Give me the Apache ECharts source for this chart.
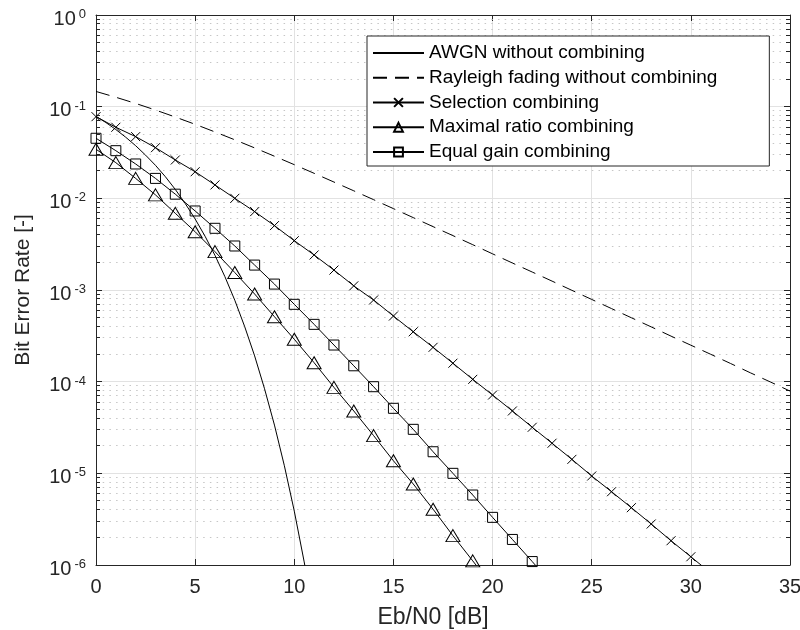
<!DOCTYPE html>
<html>
<head>
<meta charset="utf-8">
<script src="https://cdn.jsdelivr.net/npm/echarts/dist/echarts.min.js"></script>
<style>
  html, body { margin: 0; padding: 0; background: #ffffff; }
  #chart { width: 800px; height: 630px; }
</style>
</head>
<body>
<div id="chart"></div>
<script>
// BER curves for BPSK with two-branch diversity combining

// AWGN reference curve (no fading, no combining)
const awgnEbN0 = [0, 0.5, 1, 1.5, 2, 2.5, 3, 3.5, 4, 4.5, 5, 5.5, 6, 6.5, 7, 7.5, 8, 8.5, 9, 9.5, 10, 10.5, 11];
const awgnBer = [0.0786, 0.0671, 0.0563, 0.0464, 0.0375, 0.0296, 0.0229, 0.0172, 0.0125, 0.00878,
  0.00595, 0.00386, 0.00239, 0.00140, 7.73e-4, 3.98e-4, 1.91e-4, 8.37e-5, 3.36e-5, 1.21e-5,
  3.87e-6, 1.08e-6, 2.6e-7];

// Rayleigh fading, single branch
const rayEbN0 = [0, 1, 2, 3, 4, 5, 6, 7, 8, 9, 10, 11, 12, 13, 14, 15, 16, 17, 18, 19, 20,
  21, 22, 23, 24, 25, 26, 27, 28, 29, 30, 31, 32, 33, 34, 35];
const rayBer = [0.1465, 0.1267, 0.1085, 0.0919, 0.0771, 0.0642, 0.0530, 0.0435, 0.0355, 0.0288,
  0.0233, 0.01875, 0.01506, 0.01208, 0.00967, 0.00772, 0.00616, 0.00491, 0.00392, 0.00312,
  0.00248, 0.00197, 0.00157, 0.00125, 9.92e-4, 7.89e-4, 6.27e-4, 4.98e-4, 3.96e-4, 3.14e-4,
  2.50e-4, 1.99e-4, 1.58e-4, 1.25e-4, 9.95e-5, 7.9e-5];

// Selection combining
const selEbN0 = [0, 1, 2, 3, 4, 5, 6, 7, 8, 9, 10, 11, 12, 13, 14, 15, 16, 17, 18, 19, 20,
  21, 22, 23, 24, 25, 26, 27, 28, 29, 30, 31];
const selBer = [0.0778, 0.0596, 0.0471, 0.0357, 0.0262, 0.0195, 0.0140, 0.0100, 0.00716, 0.00504,
  0.00345, 0.00241, 0.00165, 0.00111, 7.78e-4, 5.2e-4, 3.5e-4, 2.37e-4, 1.59e-4, 1.06e-4,
  7.15e-5, 4.79e-5, 3.18e-5, 2.13e-5, 1.42e-5, 9.35e-6, 6.3e-6, 4.22e-6, 2.8e-6, 1.84e-6,
  1.23e-6, 8.2e-7];

// Maximal ratio combining
const mrcEbN0 = [0, 1, 2, 3, 4, 5, 6, 7, 8, 9, 10, 11, 12, 13, 14, 15, 16, 17, 18, 19, 20];
const mrcBer = [0.0343, 0.0245, 0.0165, 0.0109, 0.00686, 0.00432, 0.00262, 0.00155, 9.04e-4, 5.11e-4,
  2.9e-4, 1.61e-4, 8.67e-5, 4.79e-5, 2.58e-5, 1.37e-5, 7.65e-6, 4.06e-6, 2.09e-6, 1.11e-6, 5.85e-7];

// Equal gain combining
const egcEbN0 = [0, 1, 2, 3, 4, 5, 6, 7, 8, 9, 10, 11, 12, 13, 14, 15, 16, 17, 18, 19, 20, 21, 22, 23];
const egcBer = [0.0452, 0.0331, 0.0237, 0.0165, 0.0111, 0.00728, 0.00471, 0.00302, 0.00187, 0.00116,
  6.98e-4, 4.22e-4, 2.51e-4, 1.49e-4, 8.81e-5, 5.12e-5, 3.02e-5, 1.72e-5, 1.0e-5, 5.8e-6,
  3.31e-6, 1.9e-6, 1.09e-6, 6.2e-7];

const seriesNames = [
  'AWGN without combining',
  'Rayleigh fading without combining',
  'Selection combining',
  'Maximal ratio combining',
  'Equal gain combining'
];

// Axis ticks
const xTicks = { min: 0, max: 35, step: 5 };
const yDecades = [-6, -5, -4, -3, -2, -1, 0];
const yMinorMultipliers = [2, 3, 4, 5, 6, 7, 8, 9];

const FONT = '"Liberation Sans", Arial, Helvetica, sans-serif';
const AXIS_COLOR = '#262626';
const GRID_COLOR = '#e2e2e2';
const MINOR_GRID_COLOR = '#c6c6c6';

function pairs(xs, ys) {
  return xs.map(function (x, i) { return [x, ys[i]]; });
}

// minor log positions between decades (2..9 x 10^k)
const yMinorValues = [];
for (let d = 0; d < yDecades.length - 1; d++) {
  yMinorMultipliers.forEach(function (m) {
    yMinorValues.push([xTicks.min, Number((m * Math.pow(10, yDecades[d])).toPrecision(3))]);
  });
}

const crossPath = 'path://M0,0L10,10M0,10L10,0';

function lineSeries(name, data, extra) {
  return Object.assign({
    name: name,
    type: 'line',
    data: data,
    xAxisIndex: 0,
    yAxisIndex: 0,
    clip: true,
    z: 3,
    showAllSymbol: true,
    lineStyle: { color: '#000', width: 1 },
    itemStyle: { color: 'rgba(255,255,255,0)', borderColor: '#000', borderWidth: 1 },
    emphasis: { disabled: true }
  }, extra);
}

// plain lines: no marker, also hidden in the legend swatch
const plainItem = { color: 'rgba(255,255,255,0)', borderColor: 'rgba(255,255,255,0)', borderWidth: 0 };

const chart = echarts.init(document.getElementById('chart'), null, { renderer: 'canvas' });

chart.setOption({
  animation: false,
  backgroundColor: '#ffffff',
  grid: {
    left: 96, right: 10, top: 15, bottom: 65,
    containLabel: false,
    outerBoundsMode: 'none'
  },
  legend: {
    orient: 'vertical',
    left: 367,
    top: 36,
    padding: [7, 52, 4, 5],
    itemGap: 4.75,
    itemWidth: 51,
    itemHeight: 11,
    backgroundColor: '#ffffff',
    borderColor: AXIS_COLOR,
    borderWidth: 1,
    borderRadius: 0,
    selectedMode: false,
    textStyle: { fontSize: 19, lineHeight: 20, color: '#000', fontFamily: FONT },
    data: seriesNames
  },
  xAxis: [{
    type: 'value',
    position: 'bottom',
    min: xTicks.min, max: xTicks.max, interval: xTicks.step,
    name: 'Eb/N0 [dB]',
    nameLocation: 'middle',
    nameGap: 41,
    nameMoveOverlap: false,
    nameTextStyle: { fontSize: 23, color: AXIS_COLOR, fontFamily: FONT, padding: [0, 20, 0, 0] },
    axisLine: { show: true, onZero: false, lineStyle: { color: AXIS_COLOR, width: 1 } },
    axisTick: { show: true, inside: true, length: 6, lineStyle: { color: AXIS_COLOR } },
    axisLabel: { fontSize: 20, color: AXIS_COLOR, fontFamily: FONT, margin: 12, hideOverlap: false },
    splitLine: { show: true, lineStyle: { color: GRID_COLOR, width: 1 } }
  }, {
    type: 'value',
    position: 'top',
    min: xTicks.min, max: xTicks.max, interval: xTicks.step,
    axisLine: { show: true, onZero: false, lineStyle: { color: AXIS_COLOR, width: 1 } },
    axisTick: { show: true, inside: true, length: 6, lineStyle: { color: AXIS_COLOR } },
    axisLabel: { show: false },
    splitLine: { show: false }
  }],
  yAxis: [{
    type: 'log',
    logBase: 10,
    position: 'left',
    min: Math.pow(10, yDecades[0]),
    max: Math.pow(10, yDecades[yDecades.length - 1]),
    name: 'Bit Error Rate [-]',
    nameLocation: 'middle',
    nameGap: 62,
    nameRotate: 90,
    nameMoveOverlap: false,
    nameTextStyle: { fontSize: 21, color: AXIS_COLOR, fontFamily: FONT },
    axisLine: { show: true, onZero: false, lineStyle: { color: AXIS_COLOR, width: 1 } },
    axisTick: { show: true, inside: true, length: 6, lineStyle: { color: AXIS_COLOR } },
    axisLabel: {
      margin: 10,
      padding: [8, 0, 0, 0],
      hideOverlap: false,
      formatter: function (v) {
        const e = Math.round(Math.log10(v));
        return '{b|10}{s|' + e + '}';
      },
      rich: {
        b: { fontSize: 20, lineHeight: 22, color: AXIS_COLOR, fontFamily: FONT },
        s: { fontSize: 13, lineHeight: 13, verticalAlign: 'top', color: AXIS_COLOR, fontFamily: FONT, padding: [0, 0, 0, 3] }
      }
    },
    splitLine: { show: true, lineStyle: { color: GRID_COLOR, width: 1 } }
  }, {
    type: 'log',
    logBase: 10,
    position: 'right',
    min: Math.pow(10, yDecades[0]),
    max: Math.pow(10, yDecades[yDecades.length - 1]),
    axisLine: { show: true, onZero: false, lineStyle: { color: AXIS_COLOR, width: 1 } },
    axisTick: { show: true, inside: true, length: 6, lineStyle: { color: AXIS_COLOR } },
    axisLabel: { show: false },
    splitLine: { show: false }
  }],
  series: [
    {
      // dotted minor grid and minor ticks on both vertical edges
      type: 'custom',
      xAxisIndex: 0,
      yAxisIndex: 0,
      z: 1,
      silent: true,
      data: yMinorValues,
      renderItem: function (params, api) {
        const cs = params.coordSys;
        const yRaw = api.coord([api.value(0), api.value(1)])[1];
        const y = Math.round(yRaw - 0.5) + 0.5;
        const xl = cs.x, xr = cs.x + cs.width;
        return {
          type: 'group',
          children: [
            { type: 'line', shape: { x1: xl, y1: y, x2: xr, y2: y },
              style: { stroke: MINOR_GRID_COLOR, lineWidth: 1, lineDash: [1.5, 5.2] } },
            { type: 'line', shape: { x1: xl, y1: y, x2: xl + 4, y2: y },
              style: { stroke: AXIS_COLOR, lineWidth: 1 } },
            { type: 'line', shape: { x1: xr - 4, y1: y, x2: xr, y2: y },
              style: { stroke: AXIS_COLOR, lineWidth: 1 } }
          ]
        };
      }
    },
    lineSeries(seriesNames[0], pairs(awgnEbN0, awgnBer), { symbol: 'none', itemStyle: plainItem }),
    lineSeries(seriesNames[1], pairs(rayEbN0, rayBer), {
      symbol: 'none',
      itemStyle: plainItem,
      lineStyle: { color: '#000', width: 1, type: [14, 8] }
    }),
    lineSeries(seriesNames[2], pairs(selEbN0, selBer), { symbol: crossPath, symbolSize: 9 }),
    lineSeries(seriesNames[3], pairs(mrcEbN0, mrcBer), { symbol: 'triangle', symbolSize: [14, 12] }),
    lineSeries(seriesNames[4], pairs(egcEbN0, egcBer), { symbol: 'rect', symbolSize: 10 })
  ]
});
</script>
</body>
</html>
